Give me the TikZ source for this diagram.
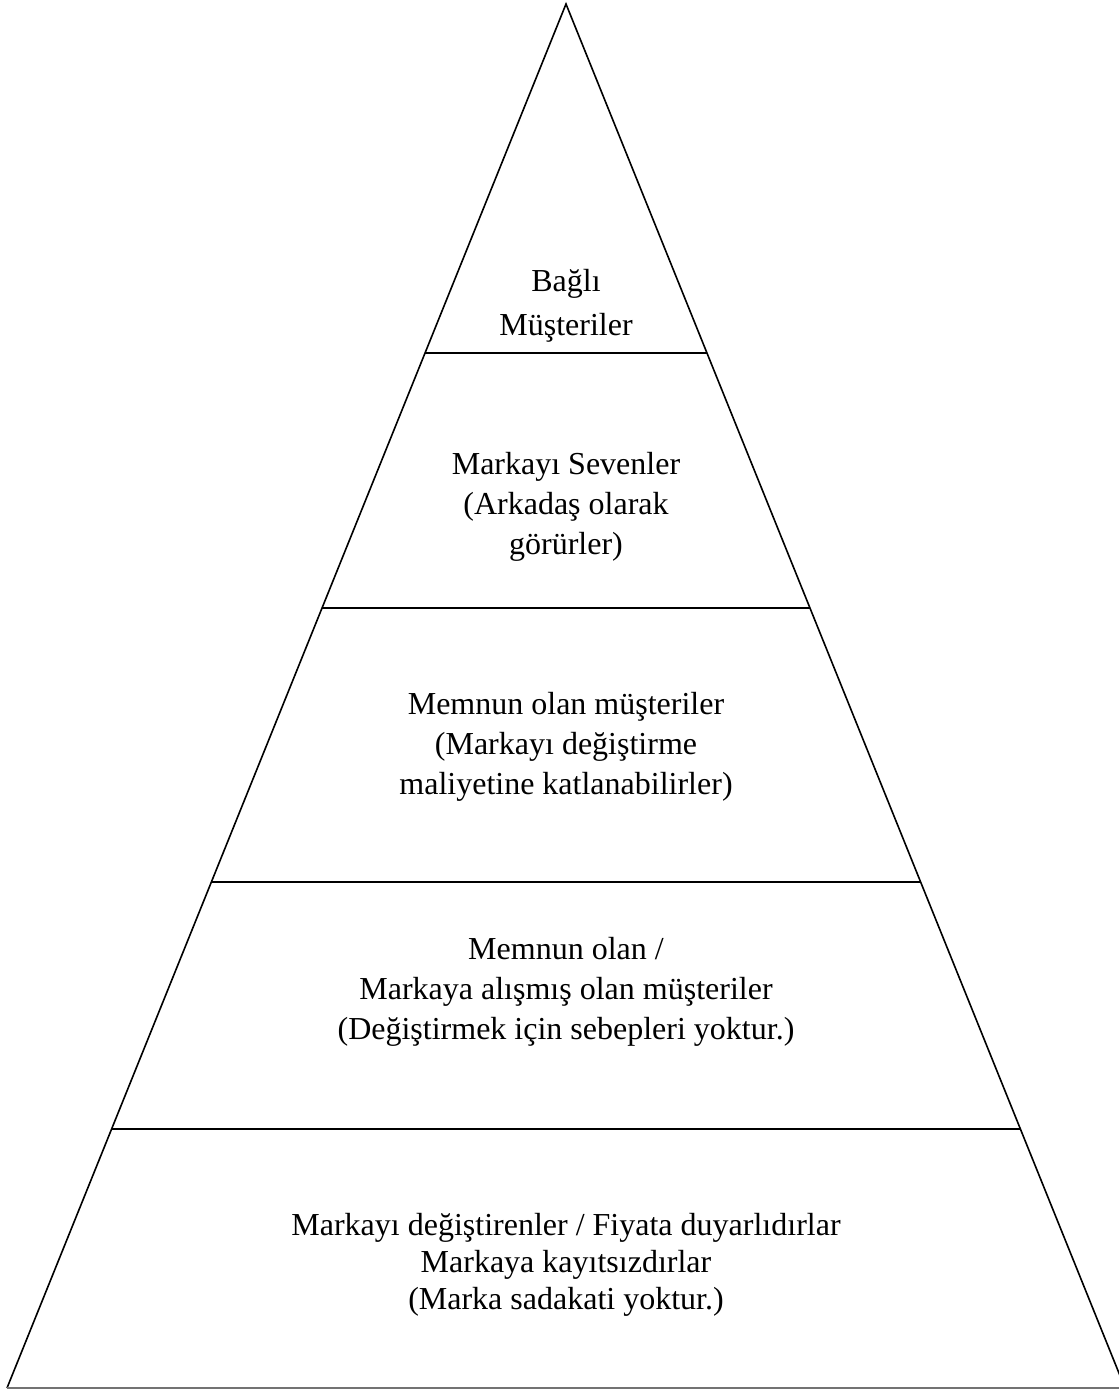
\documentclass[tikz,border=0pt]{standalone}
\usepackage{fontspec}
\setmainfont{Liberation Serif}
\begin{document}
\begin{tikzpicture}[x=0.75pt,y=-0.75pt,
  tier/.style={align=center,font=\fontsize{24}{30}\selectfont,inner sep=0pt},
  edge/.style={line width=1.2pt,black}]
\useasboundingbox (0,0) rectangle (1119,1389);
\begin{scope}
\clip (0,0) rectangle (1119,1389);
% outline of the pyramid
\coordinate (apex) at (566,4);
\coordinate (bl) at (7,1388);
\coordinate (br) at (1125,1388);
\draw[edge,line join=miter] (bl) -- (apex) -- (br);
\draw[line width=1.2pt,black!55] (bl) -- (br);
% tier boundaries
\foreach \y/\n in {353/a,608/b,882/c,1129/d}{
  \pgfmathsetmacro{\dx}{0.403902*(\y-4)}
  \coordinate (L\n) at ({566-\dx},\y);
  \coordinate (R\n) at ({566+\dx},\y);
  \draw[edge] (L\n) -- (R\n);
}
\end{scope}
% tier labels
\node[tier,font=\fontsize{24}{33}\selectfont] (t1) at (566,306) {Bağlı\\Müşteriler};
\node[tier] (t2) at (566,507) {Markayı Sevenler\\(Arkadaş olarak\\görürler)};
\node[tier] (t3) at (566,747) {Memnun olan müşteriler\\(Markayı değiştirme\\maliyetine katlanabilirler)};
\node[tier] (t4) at (566,992) {Memnun olan /\\Markaya alışmış olan müşteriler\\(Değiştirmek için sebepleri yoktur.)};
\node[tier,font=\fontsize{24}{28}\selectfont] (t5) at (566,1265) {Markayı değiştirenler / Fiyata duyarlıdırlar\\Markaya kayıtsızdırlar\\(Marka sadakati yoktur.)};
\end{tikzpicture}
\end{document}
